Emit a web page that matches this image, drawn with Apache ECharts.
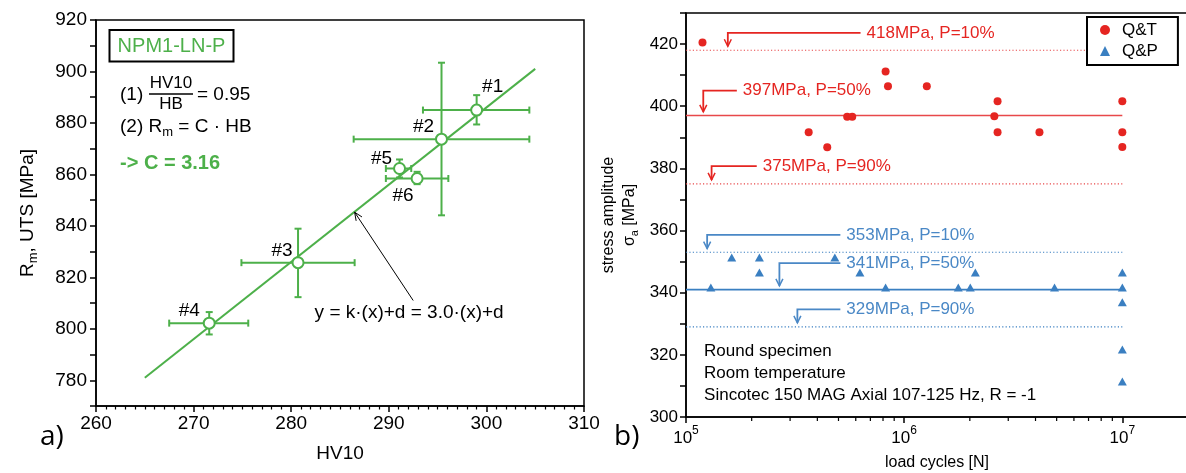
<!DOCTYPE html>
<html>
<head>
<meta charset="utf-8">
<script src="https://cdn.jsdelivr.net/npm/echarts@6/dist/echarts.min.js"></script>
<style>
  html, body { margin: 0; padding: 0; background: #fff; }
  #chart { width: 1186px; height: 473px; }
</style>
</head>
<body>
<div id="chart"></div>
<script>
// ---------- (a) HV10 hardness vs. tensile strength ----------
const samples = ['#1', '#2', '#3', '#4', '#5', '#6'];
const hv10    = [299.0, 295.4, 280.7, 271.6, 291.1, 292.9];
const hv10Lo  = [293.5, 286.4, 274.9, 267.5, 289.7, 289.7];
const hv10Hi  = [304.4, 304.4, 286.5, 275.6, 292.3, 296.1];
const uts     = [885.0, 873.7, 825.7, 802.2, 862.3, 858.4];
const utsLo   = [879.4, 844.1, 812.3, 797.8, 858.8, 856.2];
const utsHi   = [890.8, 903.4, 838.9, 806.5, 865.8, 861.0];
// regression line y = 3.0·x + d, drawn between its two end points
const fitHV   = [265, 305];
const fitUTS  = [781, 901];

// ---------- (b) S-N data, load cycles vs. stress amplitude ----------
const qtCycles = [1.19e5, 3.65e5, 4.44e5, 5.48e5, 5.78e5, 8.22e5, 8.43e5, 1.27e6,
                  2.68e6, 2.59e6, 2.68e6, 4.17e6, 1e7, 1e7, 1e7];
const qtStress = [420.5, 391.6, 386.8, 396.6, 396.6, 411.2, 406.4, 406.4,
                  401.6, 396.8, 391.6, 391.6, 401.6, 391.6, 386.9];
const qpCycles = [1.30e5, 1.62e5, 2.17e5, 2.17e5, 4.81e5, 6.27e5, 8.22e5, 1.77e6,
                  2.01e6, 2.12e6, 4.89e6, 1e7, 1e7, 1e7, 1e7, 1e7];
const qpStress = [341.7, 351.3, 351.3, 346.5, 351.3, 346.5, 341.7, 341.7,
                  341.7, 346.5, 341.7, 346.5, 341.7, 336.9, 321.7, 311.4];
// fatigue strength at failure probabilities P
const probabilities = ['10%', '50%', '90%'];
const qtLevels = [418, 397, 375];
const qpLevels = [353, 341, 329];
const levelRange = [1e5, 1e7];
const cycleTicks = [1e5, 1e6, 1e7];
const logMinorTicks = [2e5, 3e5, 4e5, 5e5, 6e5, 7e5, 8e5, 9e5,
                       2e6, 3e6, 4e6, 5e6, 6e6, 7e6, 8e6, 9e6];
const notes = ['Round specimen', 'Room temperature', 'Sincotec 150 MAG Axial 107-125 Hz, R = -1'];

// ---------- styling ----------
const FONT = '"Liberation Sans", Arial, Helvetica, sans-serif';
const GREEN = '#4db04a';
const RED = '#e52521';
const RED_LINE = '#e8484a';
const BLUE = '#3a7fc1';
const BLUE_TEXT = '#4a88c6';

const chart = echarts.init(document.getElementById('chart'), null, { renderer: 'canvas' });

// label offsets of the sample names next to their markers
const sampleLabelOffset = {
  '#1': [16, -23], '#2': [-18, -12], '#3': [-16, -12],
  '#4': [-20, -12], '#5': [-18, -10], '#6': [-14, 17]
};
// callout geometry: row of the horizontal leg, its right end, the corner, the arrow tip
const qtCallouts = [
  { row: 423.6, right: 6.31e5, corner: 1.555e5, tip: 419.3 },
  { row: 405.0, right: 1.71e5, corner: 1.20e5,  tip: 398.2 },
  { row: 380.7, right: 2.11e5, corner: 1.31e5,  tip: 376.3 }
];
const qpCallouts = [
  { row: 358.6, right: 5.1e5, corner: 1.25e5, tip: 354.2 },
  { row: 349.5, right: 5.1e5, corner: 2.68e5, tip: 342.2 },
  { row: 334.6, right: 5.1e5, corner: 3.24e5, tip: 330.3 }
];
// anchor of the test-condition notes (first line) and their line spacing
const notesAnchor = [1.21e5, 321.2];
const notesSpacing = 22.2;

function axisCommon(fontSize) {
  return {
    axisLine: { show: true, lineStyle: { color: '#000', width: 1.5 } },
    axisTick: { show: true, inside: false, length: 6, lineStyle: { color: '#000', width: 1.5 } },
    splitLine: { show: false },
    axisLabel: { color: '#000', fontSize: fontSize, fontFamily: FONT },
    nameTextStyle: { color: '#000', fontSize: fontSize, fontFamily: FONT }
  };
}

const levelSeries = [];
function addLevels(levels, color) {
  levels.forEach((lv, i) => {
    levelSeries.push({
      type: 'line', xAxisIndex: 1, yAxisIndex: 1, silent: true,
      symbol: 'none', z: 2,
      data: [[levelRange[0], lv], [levelRange[1], lv]],
      lineStyle: i === 1 ? { color: color, width: 1.6, type: 'solid' }
                         : { color: color, width: 1.1, type: [1.2, 2.2] }
    });
  });
}
addLevels(qtLevels, RED_LINE);
addLevels(qpLevels, BLUE);

function calloutSeries(levels, placement, color) {
  return {
    type: 'custom', xAxisIndex: 1, yAxisIndex: 1, silent: true, z: 5,
    data: placement.map(c => [c.right, c.row]),
    renderItem: (params, api) => {
      const i = params.dataIndex;
      const c = placement[i];
      const a = api.coord([c.right, c.row]);
      const b = api.coord([c.corner, c.row]);
      const t = api.coord([c.corner, c.tip]);
      return {
        type: 'group',
        children: [
          { type: 'polyline', shape: { points: [a, b, t] },
            style: { stroke: color, lineWidth: 1.8, fill: null } },
          { type: 'polyline', shape: { points: [[t[0] - 3.5, t[1] - 7], [t[0], t[1]], [t[0] + 3.5, t[1] - 7]] },
            style: { stroke: color, lineWidth: 1.5, fill: null } },
          { type: 'text', x: a[0] + 6, y: a[1],
            style: { text: levels[i] + 'MPa, P=' + probabilities[i], fill: color,
                     font: '17px ' + FONT, align: 'left', verticalAlign: 'middle' } }
        ]
      };
    }
  };
}

const option = {
  animation: false,
  backgroundColor: '#fff',
  textStyle: { fontFamily: FONT },
  grid: [
    { left: 96, top: 20, width: 488, height: 386, show: true, borderColor: '#000', borderWidth: 1.5,
      backgroundColor: 'transparent', outerBoundsMode: 'none', containLabel: false },
    { left: 686, top: 13, width: 502, height: 404, show: true, borderColor: '#000', borderWidth: 1.5,
      backgroundColor: 'transparent', outerBoundsMode: 'none', containLabel: false }
  ],
  legend: {
    data: ['Q&T', 'Q&P'],
    orient: 'vertical',
    left: 1087, top: 17,
    padding: [4, 20, 5, 13],
    itemGap: 3,
    itemWidth: 10, itemHeight: 10,
    borderColor: '#000', borderWidth: 2,
    backgroundColor: '#fff',
    textStyle: { fontSize: 17, color: '#000', fontFamily: FONT, lineHeight: 18, padding: [0, 0, 0, 7] }
  },
  xAxis: [
    Object.assign(axisCommon(19), {
      gridIndex: 0, type: 'value', min: 260, max: 310, interval: 10,
      minorTick: { show: true, splitNumber: 10, length: 3.5, lineStyle: { color: '#000', width: 1.2 } },
      minorSplitLine: { show: false },
      name: 'HV10', nameLocation: 'middle', nameGap: 38
    }),
    Object.assign(axisCommon(17), {
      gridIndex: 1, type: 'log', logBase: 10, min: 1e5, max: 2e7,
      name: 'load cycles [N]', nameLocation: 'middle', nameGap: 38,
      nameTextStyle: { color: '#000', fontSize: 16, fontFamily: FONT },
      axisTick: { show: true, inside: false, length: 6, customValues: cycleTicks,
                  lineStyle: { color: '#000', width: 1.5 } },
      axisLabel: {
        color: '#000', fontFamily: FONT, margin: 8, customValues: cycleTicks,
        formatter: v => '{b|10}{sup|' + Math.round(Math.log10(v)) + '}',
        rich: {
          b: { fontSize: 17, color: '#000', fontFamily: FONT, lineHeight: 22, verticalAlign: 'bottom' },
          sup: { fontSize: 12, color: '#000', fontFamily: FONT, lineHeight: 22, verticalAlign: 'top' }
        }
      }
    })
  ],
  yAxis: [
    Object.assign(axisCommon(19), {
      gridIndex: 0, type: 'value', min: 770, max: 920, interval: 10,
      axisLabel: { color: '#000', fontSize: 19, fontFamily: FONT, margin: 9,
                   formatter: v => (v % 20 === 0 ? String(v) : '') },
      name: '{t|R}{s|m}{t|, UTS [MPa]}', nameLocation: 'middle', nameGap: 56, nameRotate: 90,
      nameTextStyle: {
        color: '#000', fontFamily: FONT,
        rich: {
          t: { fontSize: 19, color: '#000', fontFamily: FONT, lineHeight: 24, verticalAlign: 'middle' },
          s: { fontSize: 13, color: '#000', fontFamily: FONT, lineHeight: 24, verticalAlign: 'bottom' }
        }
      }
    }),
    Object.assign(axisCommon(17), {
      gridIndex: 1, type: 'value', min: 300, max: 430, interval: 10,
      axisLabel: { color: '#000', fontSize: 17, fontFamily: FONT, margin: 8,
                   formatter: v => (v % 20 === 0 ? String(v) : '') },
      name: '{t|stress amplitude}\n{t|σ}{s|a}{t| [MPa]}', nameLocation: 'middle', nameGap: 46, nameRotate: 90,
      nameTextStyle: {
        color: '#000', fontFamily: FONT, align: 'center',
        rich: {
          t: { fontSize: 16, color: '#000', fontFamily: FONT, lineHeight: 21, verticalAlign: 'middle' },
          s: { fontSize: 11, color: '#000', fontFamily: FONT, lineHeight: 21, verticalAlign: 'bottom' }
        }
      }
    })
  ],
  series: [
    // regression line
    {
      type: 'line', xAxisIndex: 0, yAxisIndex: 0, silent: true, symbol: 'none', z: 2,
      data: fitHV.map((x, i) => [x, fitUTS[i]]),
      lineStyle: { color: GREEN, width: 2 }
    },
    // error bars in both directions
    {
      type: 'custom', xAxisIndex: 0, yAxisIndex: 0, silent: true, z: 3,
      data: hv10.map((x, i) => [x, uts[i]]),
      renderItem: (params, api) => {
        const i = params.dataIndex;
        const c = api.coord([hv10[i], uts[i]]);
        const xl = api.coord([hv10Lo[i], uts[i]])[0];
        const xh = api.coord([hv10Hi[i], uts[i]])[0];
        const yl = api.coord([hv10[i], utsLo[i]])[1];
        const yh = api.coord([hv10[i], utsHi[i]])[1];
        const cap = 3.5;
        const st = { stroke: GREEN, lineWidth: 2 };
        const seg = (x1, y1, x2, y2) => ({ type: 'line', shape: { x1, y1, x2, y2 }, style: st });
        return {
          type: 'group',
          children: [
            seg(xl, c[1], xh, c[1]),
            seg(xl, c[1] - cap, xl, c[1] + cap),
            seg(xh, c[1] - cap, xh, c[1] + cap),
            seg(c[0], yl, c[0], yh),
            seg(c[0] - cap, yl, c[0] + cap, yl),
            seg(c[0] - cap, yh, c[0] + cap, yh)
          ]
        };
      }
    },
    // sample means
    {
      type: 'scatter', xAxisIndex: 0, yAxisIndex: 0, silent: true, z: 4,
      symbol: 'circle', symbolSize: 11,
      itemStyle: { color: '#fff', borderColor: GREEN, borderWidth: 2, opacity: 1 },
      data: hv10.map((x, i) => ({
        value: [x, uts[i]],
        label: { offset: sampleLabelOffset[samples[i]] }
      })),
      label: {
        show: true, position: 'inside', color: '#000', fontSize: 19, fontFamily: FONT,
        formatter: p => samples[p.dataIndex]
      }
    },
    // regression annotation with arrow
    {
      type: 'custom', xAxisIndex: 0, yAxisIndex: 0, silent: true, z: 5,
      data: [[292.5, 811]],
      renderItem: (params, api) => {
        const tail = api.coord([292.5, 811]);
        const head = api.coord([286.5, 3.0 * 286.5 - 14.2]);
        const dx = head[0] - tail[0], dy = head[1] - tail[1];
        const len = Math.sqrt(dx * dx + dy * dy);
        const ux = dx / len, uy = dy / len;
        const px = -uy, py = ux;
        const L = 8, W = 3.5;
        const txt = api.coord([282.4, 806.2]);
        return {
          type: 'group',
          children: [
            { type: 'line', shape: { x1: tail[0], y1: tail[1], x2: head[0], y2: head[1] },
              style: { stroke: '#000', lineWidth: 1 } },
            { type: 'polyline', shape: { points: [
                [head[0] - L * ux + W * px, head[1] - L * uy + W * py],
                head,
                [head[0] - L * ux - W * px, head[1] - L * uy - W * py]] },
              style: { stroke: '#000', lineWidth: 1, fill: null } },
            { type: 'text', x: txt[0], y: txt[1],
              style: { text: 'y = k·(x)+d = 3.0·(x)+d', fill: '#000', font: '19px ' + FONT,
                       align: 'left', verticalAlign: 'middle' } }
          ]
        };
      }
    },
    ...levelSeries,
    {
      name: 'Q&T', type: 'scatter', xAxisIndex: 1, yAxisIndex: 1, silent: true, z: 4,
      symbol: 'circle', symbolSize: 8,
      itemStyle: { color: RED, opacity: 1 },
      data: qtCycles.map((n, i) => [n, qtStress[i]])
    },
    {
      name: 'Q&P', type: 'scatter', xAxisIndex: 1, yAxisIndex: 1, silent: true, z: 4,
      symbol: 'triangle', symbolSize: [9, 8],
      itemStyle: { color: BLUE, opacity: 1 },
      data: qpCycles.map((n, i) => [n, qpStress[i]])
    },
    calloutSeries(qtLevels, qtCallouts, RED),
    calloutSeries(qpLevels, qpCallouts, BLUE_TEXT),
    // logarithmic minor ticks on the load-cycle axis
    {
      type: 'custom', xAxisIndex: 1, yAxisIndex: 1, silent: true, z: 6,
      data: logMinorTicks.map(v => [v, 300]),
      renderItem: (params, api) => {
        const p = api.coord([logMinorTicks[params.dataIndex], 300]);
        return { type: 'line', shape: { x1: p[0], y1: p[1], x2: p[0], y2: p[1] + 4 },
                 style: { stroke: '#000', lineWidth: 1.2 } };
      }
    },
    // test conditions
    {
      type: 'custom', xAxisIndex: 1, yAxisIndex: 1, silent: true, z: 5,
      data: notes.map(() => notesAnchor),
      renderItem: (params, api) => {
        const base = api.coord(notesAnchor);
        return { type: 'text', x: base[0], y: base[1] + params.dataIndex * notesSpacing,
                 style: { text: notes[params.dataIndex], fill: '#000', font: '17px ' + FONT,
                          align: 'left', verticalAlign: 'middle' } };
      }
    }
  ],
  graphic: [
    // panel letters
    { type: 'text', left: 40, top: 423, style: { text: 'a)', fill: '#000', font: '28px "Open Sans", sans-serif' } },
    { type: 'text', left: 614, top: 423, style: { text: 'b)', fill: '#000', font: '28px "Open Sans", sans-serif' } },
    // material box
    { type: 'rect', shape: { x: 109.5, y: 30, width: 124, height: 31.5 },
      style: { fill: '#fff', stroke: '#000', lineWidth: 2 }, z: 10 },
    { type: 'text', x: 171.5, y: 46, z: 11,
      style: { text: 'NPM1-LN-P', fill: GREEN, font: '20px ' + FONT, align: 'center', verticalAlign: 'middle' } },
    // (1) HV10 / HB = 0.95
    { type: 'text', x: 120, y: 95, z: 11,
      style: { text: '(1)', fill: '#000', font: '19px ' + FONT, align: 'left', verticalAlign: 'middle' } },
    { type: 'text', x: 171, y: 83, z: 11,
      style: { text: 'HV10', fill: '#000', font: '17px ' + FONT, align: 'center', verticalAlign: 'middle' } },
    { type: 'line', shape: { x1: 149, y1: 94, x2: 193, y2: 94 }, style: { stroke: '#000', lineWidth: 1.3 }, z: 11 },
    { type: 'text', x: 171, y: 104.5, z: 11,
      style: { text: 'HB', fill: '#000', font: '17px ' + FONT, align: 'center', verticalAlign: 'middle' } },
    { type: 'text', x: 197, y: 95, z: 11,
      style: { text: '= 0.95', fill: '#000', font: '19px ' + FONT, align: 'left', verticalAlign: 'middle' } },
    // (2) Rm = C · HB
    { type: 'text', x: 120, y: 127, z: 11,
      style: {
        text: '{t|(2) R}{s|m}{t| = C · HB}', align: 'left', verticalAlign: 'middle',
        rich: {
          t: { fontSize: 19, fontFamily: FONT, fill: '#000', lineHeight: 24, verticalAlign: 'middle' },
          s: { fontSize: 13, fontFamily: FONT, fill: '#000', lineHeight: 24, verticalAlign: 'bottom' }
        }
      } },
    { type: 'text', x: 120, y: 163, z: 11,
      style: { text: '-> C = 3.16', fill: GREEN, font: 'bold 20px ' + FONT, align: 'left', verticalAlign: 'middle' } }
  ]
};

chart.setOption(option);
</script>
</body>
</html>
